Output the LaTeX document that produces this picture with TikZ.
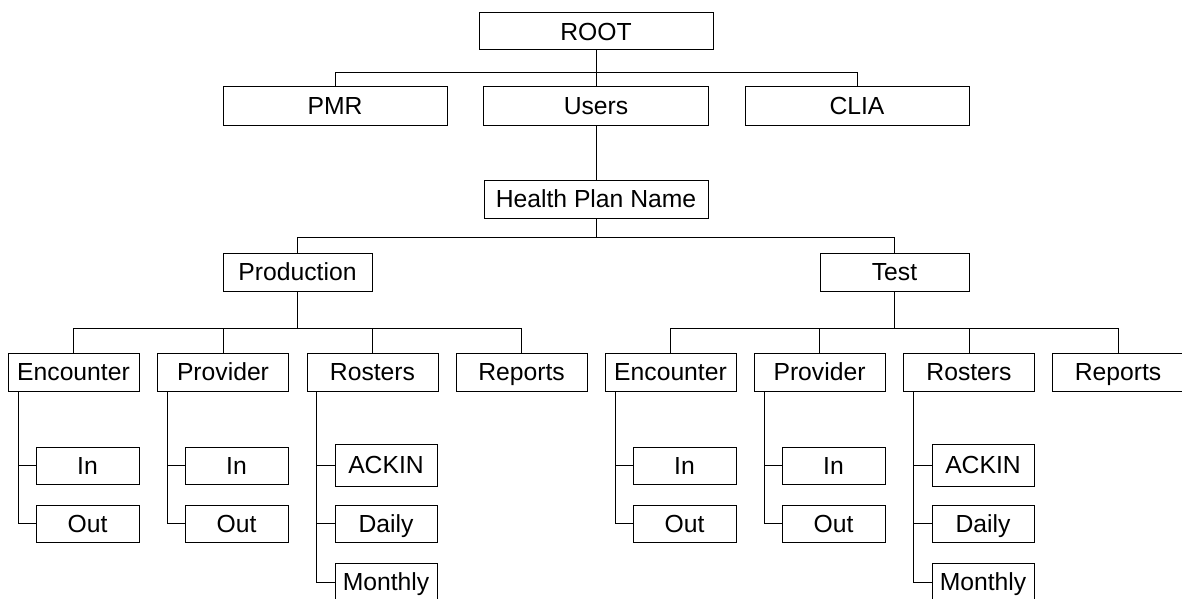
\documentclass[tikz,border=0pt]{standalone}
\usepackage{fontspec}
\setmainfont{Liberation Sans}
\begin{document}
\begin{tikzpicture}[x=1pt,y=-1pt,
  box/.style={draw, line width=1pt, inner sep=0pt, text height=17.6pt, text depth=0pt, font=\fontsize{24.7}{28}\selectfont},
  wide/.style={box, minimum width=224pt, minimum height=38pt},
  mid/.style={box, minimum width=149pt, minimum height=38pt},
  lvl/.style={box, minimum width=131pt, minimum height=38pt},
  leaf/.style={box, minimum width=103pt, minimum height=37pt},
  conn/.style={line width=1pt}]
\useasboundingbox (0,0) rectangle (1182,599);
% top level
\node[box, minimum width=234pt, minimum height=37pt] (root) at (596,31.5) {ROOT};
\node[wide] (pmr) at (335,106) {PMR};
\node[wide, minimum width=225pt] (users) at (596,106) {Users};
\node[wide] (clia) at (857,106) {CLIA};
\node[wide, minimum width=224pt] (hpn) at (596,199) {Health Plan Name};
\node[mid] (prod) at (297.5,272) {Production};
\node[mid] (test) at (894.5,272) {Test};
% level 3
\node[lvl] (penc) at (73.5,372) {Encounter};
\node[lvl] (pprov) at (223,372) {Provider};
\node[lvl] (pros) at (372.5,372) {Rosters};
\node[lvl] (prep) at (521.5,372) {Reports};
\node[lvl] (tenc) at (670.5,372) {Encounter};
\node[lvl] (tprov) at (819.5,372) {Provider};
\node[lvl] (tros) at (969,372) {Rosters};
\node[lvl] (trep) at (1118,372) {Reports};
% leaves
\node[leaf] (pencin) at (87.5,465.5) {In};
\node[leaf] (pencout) at (87.5,523.5) {Out};
\node[leaf] (pprovin) at (236.5,465.5) {In};
\node[leaf] (pprovout) at (236.5,523.5) {Out};
\node[leaf, minimum width=102pt, minimum height=42pt] (pack) at (386,465) {ACKIN};
\node[leaf, minimum width=102pt] (pdaily) at (386,523.5) {Daily};
\node[leaf, minimum width=102pt, minimum height=38pt] (pmon) at (386,582) {Monthly};
\node[leaf] (tencin) at (684.5,465.5) {In};
\node[leaf] (tencout) at (684.5,523.5) {Out};
\node[leaf] (tprovin) at (833.5,465.5) {In};
\node[leaf] (tprovout) at (833.5,523.5) {Out};
\node[leaf, minimum width=102pt, minimum height=42pt] (tack) at (983,465) {ACKIN};
\node[leaf, minimum width=102pt] (tdaily) at (983,523.5) {Daily};
\node[leaf, minimum width=102pt, minimum height=38pt] (tmon) at (983,582) {Monthly};
% buses
\coordinate (b0) at (0,73);
\coordinate (b1) at (0,237);
\coordinate (b2) at (0,328);
\draw[conn] (root.south) -- (users.north);
\draw[conn] (pmr.north) -- (pmr.north |- b0) -- (clia.north |- b0) -- (clia.north);
\draw[conn] (users.south) -- (hpn.north);
\draw[conn] (hpn.south) -- (hpn.south |- b1);
\draw[conn] (prod.north) -- (prod.north |- b1) -- (test.north |- b1) -- (test.north);
\draw[conn] (prod.south) -- (prod.south |- b2);
\draw[conn] (penc.north) -- (penc.north |- b2) -- (prep.north |- b2) -- (prep.north);
\draw[conn] (pprov.north) -- (pprov.north |- b2);
\draw[conn] (pros.north) -- (pros.north |- b2);
\draw[conn] (test.south) -- (test.south |- b2);
\draw[conn] (tenc.north) -- (tenc.north |- b2) -- (trep.north |- b2) -- (trep.north);
\draw[conn] (tprov.north) -- (tprov.north |- b2);
\draw[conn] (tros.north) -- (tros.north |- b2);
% trunks
\coordinate (k1) at (18,391);
\coordinate (k2) at (167,391);
\coordinate (k3) at (316,391);
\coordinate (k4) at (615,391);
\coordinate (k5) at (764,391);
\coordinate (k6) at (913,391);
\draw[conn] (k1) |- (pencout.west); \draw[conn] (pencin.west) -- (pencin.west -| k1);
\draw[conn] (k2) |- (pprovout.west); \draw[conn] (pprovin.west) -- (pprovin.west -| k2);
\draw[conn] (k3) |- (pmon.west); \draw[conn] (pack.west) -- (pack.west -| k3); \draw[conn] (pdaily.west) -- (pdaily.west -| k3);
\draw[conn] (k4) |- (tencout.west); \draw[conn] (tencin.west) -- (tencin.west -| k4);
\draw[conn] (k5) |- (tprovout.west); \draw[conn] (tprovin.west) -- (tprovin.west -| k5);
\draw[conn] (k6) |- (tmon.west); \draw[conn] (tack.west) -- (tack.west -| k6); \draw[conn] (tdaily.west) -- (tdaily.west -| k6);
\end{tikzpicture}
\end{document}
